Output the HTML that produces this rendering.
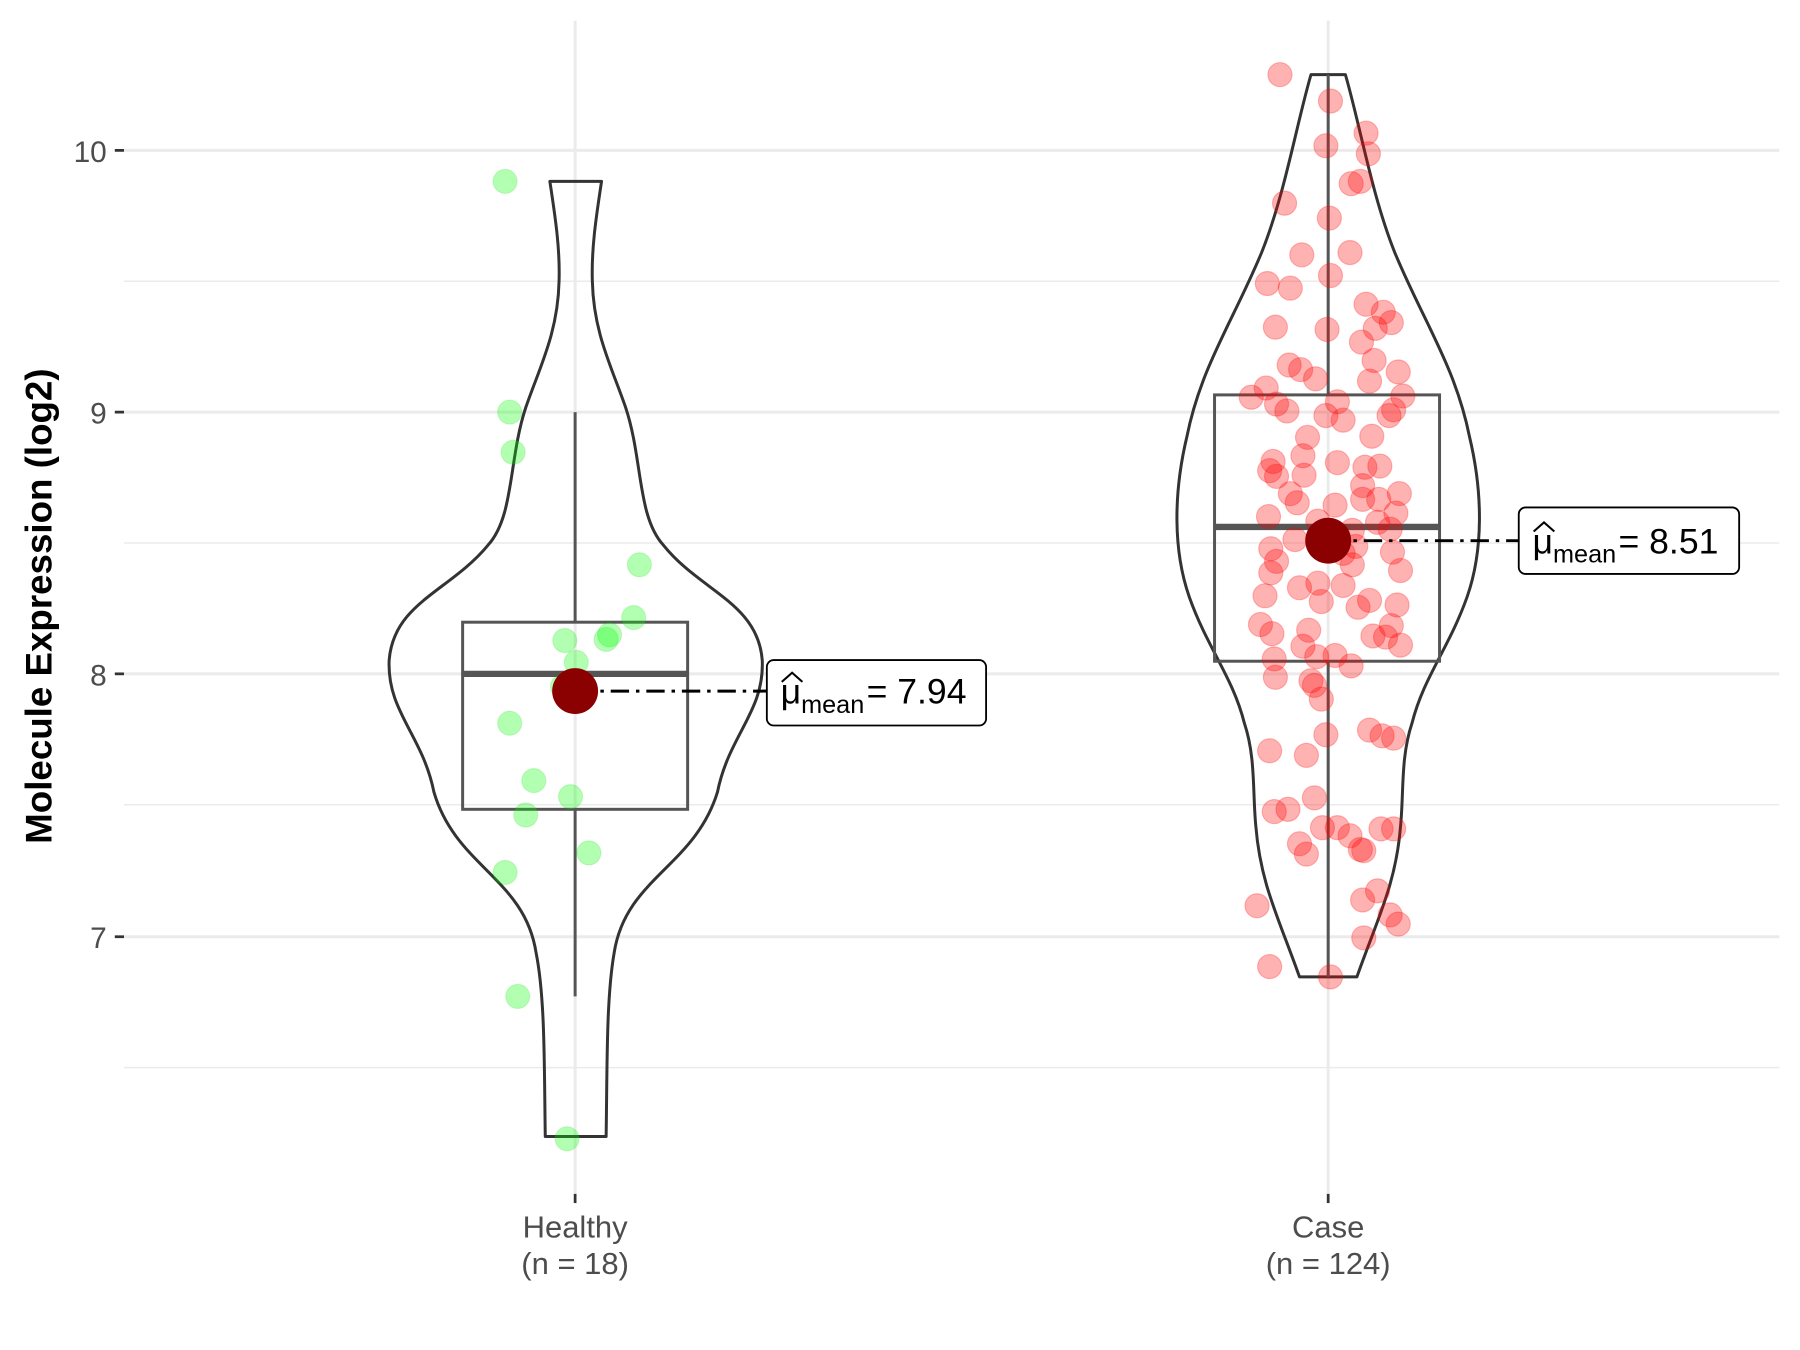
<!DOCTYPE html>
<html><head><meta charset="utf-8"><style>
html,body{margin:0;padding:0;background:#fff;}
svg{display:block;}
text{font-family:"Liberation Sans",Arial,sans-serif;}
</style></head><body>
<svg width="1800" height="1350" viewBox="0 0 1568 1176" preserveAspectRatio="none" xmlns="http://www.w3.org/2000/svg">
<rect width="1568" height="1176" fill="#fff"/>
<g stroke="#ebebeb" stroke-width="1.3">
<line x1="108" x2="1550" y1="245" y2="245"/><line x1="108" x2="1550" y1="473" y2="473"/>
<line x1="108" x2="1550" y1="701" y2="701"/><line x1="108" x2="1550" y1="930" y2="930"/>
</g>
<g stroke="#ebebeb" stroke-width="2.6">
<line x1="108" x2="1550" y1="131" y2="131"/><line x1="108" x2="1550" y1="359" y2="359"/>
<line x1="108" x2="1550" y1="587" y2="587"/><line x1="108" x2="1550" y1="816" y2="816"/>
<line x1="501" x2="501" y1="18" y2="1040"/><line x1="1157" x2="1157" y1="18" y2="1040"/>
</g>
<g stroke="#333" stroke-width="2.4">
<line x1="100" x2="108" y1="131" y2="131"/><line x1="100" x2="108" y1="359" y2="359"/>
<line x1="100" x2="108" y1="587" y2="587"/><line x1="100" x2="108" y1="816" y2="816"/>
<line x1="501" x2="501" y1="1040" y2="1048"/><line x1="1157" x2="1157" y1="1040" y2="1048"/>
</g>
<g fill="#4d4d4d" font-size="26" text-anchor="end">
<text x="93" y="141">10</text><text x="93" y="369">9</text><text x="93" y="597">8</text><text x="93" y="826">7</text>
</g>
<g fill="#4d4d4d" font-size="27" text-anchor="middle">
<text x="501" y="1078">Healthy</text><text x="501" y="1110">(n = 18)</text>
<text x="1157" y="1078">Case</text><text x="1157" y="1110">(n = 124)</text>
</g>
<text transform="translate(45,528) rotate(-90)" font-size="32" font-weight="bold" text-anchor="middle" fill="#000">Molecule Expression (log2)</text>

<path fill="none" stroke="#333" stroke-width="2.6" stroke-linejoin="round" d="M479,158 L524,158 C520,185 515,215 516,245 C517,290 533,320 545,355 C560,400 555,450 578,475 C610,515 660,525 664,575 C666,620 635,640 625,690 C605,755 545,765 535,830 C528,870 529,930 528,990 L475,990 C474,930 475,870 467,830 C457,765 397,755 378,690 C368,640 337,620 339,575 C343,525 392,515 425,475 C448,450 443,400 458,355 C470,320 486,290 487,245 C488,215 483,185 479,158 Z"/>
<path fill="none" stroke="#333" stroke-width="2.6" stroke-linejoin="round" d="M1142,65 L1172,65 C1185,110 1195,170 1215,220 C1240,280 1268,320 1280,380 C1292,430 1292,480 1278,520 C1262,565 1240,590 1230,630 C1220,660 1223,690 1220,720 C1216,770 1200,800 1182,851 L1132,851 C1114,800 1098,770 1094,720 C1091,690 1094,660 1084,630 C1074,590 1052,565 1036,520 C1022,480 1022,430 1034,380 C1046,320 1074,280 1099,220 C1119,170 1129,110 1142,65 Z"/>

<g stroke="#555" stroke-width="2.6" fill="none">
<line x1="501" x2="501" y1="359" y2="542"/><line x1="501" x2="501" y1="705" y2="868"/>
<rect x="403" y="542" width="196" height="163"/>
<line x1="1157" x2="1157" y1="65" y2="344"/><line x1="1157" x2="1157" y1="576" y2="851"/>
<rect x="1058" y="344" width="196" height="232"/>
</g>
<line x1="403" x2="599" y1="587" y2="587" stroke="#555" stroke-width="5.5"/>
<line x1="1058" x2="1254" y1="459" y2="459" stroke="#555" stroke-width="5.5"/>

<g fill="#00ff00" fill-opacity="0.3" stroke="#00cc00" stroke-opacity="0.15">
<circle cx="440" cy="158" r="10.5"/><circle cx="444" cy="359" r="10.5"/><circle cx="447" cy="394" r="10.5"/>
<circle cx="557" cy="492" r="10.5"/><circle cx="552" cy="538" r="10.5"/><circle cx="492" cy="558" r="10.5"/>
<circle cx="531" cy="553" r="10.5"/><circle cx="528" cy="557" r="10.5"/><circle cx="502" cy="577" r="10.5"/>
<circle cx="490" cy="598" r="10.5"/><circle cx="444" cy="630" r="10.5"/><circle cx="465" cy="680" r="10.5"/>
<circle cx="497" cy="694" r="10.5"/><circle cx="458" cy="710" r="10.5"/><circle cx="513" cy="743" r="10.5"/>
<circle cx="440" cy="760" r="10.5"/><circle cx="451" cy="868" r="10.5"/><circle cx="494" cy="992" r="10.5"/>
</g>
<g fill="#ff0000" fill-opacity="0.3" stroke="#ff0000" stroke-opacity="0.25">
<circle cx="1115" cy="65" r="10.5"/><circle cx="1159" cy="88" r="10.5"/><circle cx="1190" cy="116" r="10.5"/><circle cx="1192" cy="134" r="10.5"/><circle cx="1155" cy="127" r="10.5"/><circle cx="1185" cy="158" r="10.5"/><circle cx="1177" cy="160" r="10.5"/><circle cx="1119" cy="177" r="10.5"/><circle cx="1158" cy="190" r="10.5"/><circle cx="1134" cy="222" r="10.5"/><circle cx="1176" cy="220" r="10.5"/><circle cx="1159" cy="240" r="10.5"/><circle cx="1104" cy="247" r="10.5"/><circle cx="1124" cy="251" r="10.5"/><circle cx="1190" cy="265" r="10.5"/><circle cx="1205" cy="272" r="10.5"/><circle cx="1111" cy="285" r="10.5"/><circle cx="1156" cy="287" r="10.5"/><circle cx="1198" cy="286" r="10.5"/><circle cx="1212" cy="281" r="10.5"/><circle cx="1186" cy="298" r="10.5"/><circle cx="1197" cy="314" r="10.5"/><circle cx="1123" cy="318" r="10.5"/><circle cx="1133" cy="322" r="10.5"/><circle cx="1146" cy="330" r="10.5"/><circle cx="1218" cy="324" r="10.5"/><circle cx="1193" cy="332" r="10.5"/><circle cx="1103" cy="338" r="10.5"/><circle cx="1090" cy="346" r="10.5"/><circle cx="1112" cy="352" r="10.5"/><circle cx="1165" cy="350" r="10.5"/><circle cx="1121" cy="358" r="10.5"/><circle cx="1155" cy="362" r="10.5"/><circle cx="1214" cy="357" r="10.5"/><circle cx="1222" cy="345" r="10.5"/><circle cx="1170" cy="366" r="10.5"/><circle cx="1210" cy="362" r="10.5"/><circle cx="1139" cy="381" r="10.5"/><circle cx="1109" cy="402" r="10.5"/><circle cx="1135" cy="397" r="10.5"/><circle cx="1165" cy="403" r="10.5"/><circle cx="1189" cy="407" r="10.5"/><circle cx="1202" cy="406" r="10.5"/><circle cx="1112" cy="415" r="10.5"/><circle cx="1106" cy="410" r="10.5"/><circle cx="1136" cy="414" r="10.5"/><circle cx="1187" cy="423" r="10.5"/><circle cx="1219" cy="430" r="10.5"/><circle cx="1130" cy="438" r="10.5"/><circle cx="1163" cy="440" r="10.5"/><circle cx="1187" cy="435" r="10.5"/><circle cx="1201" cy="435" r="10.5"/><circle cx="1105" cy="450" r="10.5"/><circle cx="1216" cy="447" r="10.5"/><circle cx="1148" cy="454" r="10.5"/><circle cx="1200" cy="455" r="10.5"/><circle cx="1178" cy="462" r="10.5"/><circle cx="1211" cy="461" r="10.5"/><circle cx="1107" cy="478" r="10.5"/><circle cx="1112" cy="489" r="10.5"/><circle cx="1170" cy="482" r="10.5"/><circle cx="1181" cy="476" r="10.5"/><circle cx="1213" cy="481" r="10.5"/><circle cx="1220" cy="497" r="10.5"/><circle cx="1107" cy="499" r="10.5"/><circle cx="1178" cy="492" r="10.5"/><circle cx="1148" cy="508" r="10.5"/><circle cx="1132" cy="512" r="10.5"/><circle cx="1102" cy="519" r="10.5"/><circle cx="1151" cy="524" r="10.5"/><circle cx="1183" cy="529" r="10.5"/><circle cx="1193" cy="523" r="10.5"/><circle cx="1217" cy="527" r="10.5"/><circle cx="1098" cy="544" r="10.5"/><circle cx="1108" cy="552" r="10.5"/><circle cx="1140" cy="549" r="10.5"/><circle cx="1212" cy="545" r="10.5"/><circle cx="1196" cy="554" r="10.5"/><circle cx="1207" cy="555" r="10.5"/><circle cx="1220" cy="562" r="10.5"/><circle cx="1135" cy="563" r="10.5"/><circle cx="1147" cy="572" r="10.5"/><circle cx="1163" cy="571" r="10.5"/><circle cx="1110" cy="574" r="10.5"/><circle cx="1177" cy="580" r="10.5"/><circle cx="1111" cy="590" r="10.5"/><circle cx="1142" cy="593" r="10.5"/><circle cx="1145" cy="597" r="10.5"/><circle cx="1151" cy="609" r="10.5"/><circle cx="1155" cy="640" r="10.5"/><circle cx="1193" cy="636" r="10.5"/><circle cx="1204" cy="641" r="10.5"/><circle cx="1214" cy="643" r="10.5"/><circle cx="1106" cy="654" r="10.5"/><circle cx="1138" cy="658" r="10.5"/><circle cx="1145" cy="695" r="10.5"/><circle cx="1110" cy="707" r="10.5"/><circle cx="1122" cy="705" r="10.5"/><circle cx="1152" cy="721" r="10.5"/><circle cx="1165" cy="721" r="10.5"/><circle cx="1132" cy="735" r="10.5"/><circle cx="1138" cy="744" r="10.5"/><circle cx="1176" cy="728" r="10.5"/><circle cx="1188" cy="741" r="10.5"/><circle cx="1203" cy="722" r="10.5"/><circle cx="1214" cy="722" r="10.5"/><circle cx="1185" cy="740" r="10.5"/><circle cx="1095" cy="789" r="10.5"/><circle cx="1187" cy="784" r="10.5"/><circle cx="1200" cy="776" r="10.5"/><circle cx="1211" cy="797" r="10.5"/><circle cx="1218" cy="805" r="10.5"/><circle cx="1188" cy="817" r="10.5"/><circle cx="1106" cy="842" r="10.5"/><circle cx="1159" cy="851" r="10.5"/><circle cx="1128" cy="470" r="10.5"/><circle cx="1170" cy="510" r="10.5"/><circle cx="1124" cy="430" r="10.5"/><circle cx="1195" cy="380" r="10.5"/>
</g>

<line x1="501" x2="668" y1="602" y2="602" stroke="#000" stroke-width="2.6" stroke-dasharray="16,6,3,6"/>
<line x1="1157" x2="1323" y1="471" y2="471" stroke="#000" stroke-width="2.6" stroke-dasharray="16,6,3,6"/>
<circle cx="501" cy="602" r="20" fill="#8b0000"/>
<circle cx="1157" cy="471" r="20" fill="#8b0000"/>

<rect x="668" y="575" width="191" height="57" rx="6" fill="#fff" stroke="#000" stroke-width="1.6"/>
<text x="680" y="613" font-size="31" fill="#000">μ<tspan font-size="22" dy="8">mean</tspan><tspan dy="-8" dx="2">= 7.94</tspan></text>
<path d="M681,594 L690,586 L699,594" fill="none" stroke="#000" stroke-width="1.8"/>
<rect x="1323" y="442" width="192" height="58" rx="6" fill="#fff" stroke="#000" stroke-width="1.6"/>
<text x="1335" y="482" font-size="31" fill="#000">μ<tspan font-size="22" dy="8">mean</tspan><tspan dy="-8" dx="2">= 8.51</tspan></text>
<path d="M1336,463 L1345,455 L1354,463" fill="none" stroke="#000" stroke-width="1.8"/>
</svg>
</body></html>
